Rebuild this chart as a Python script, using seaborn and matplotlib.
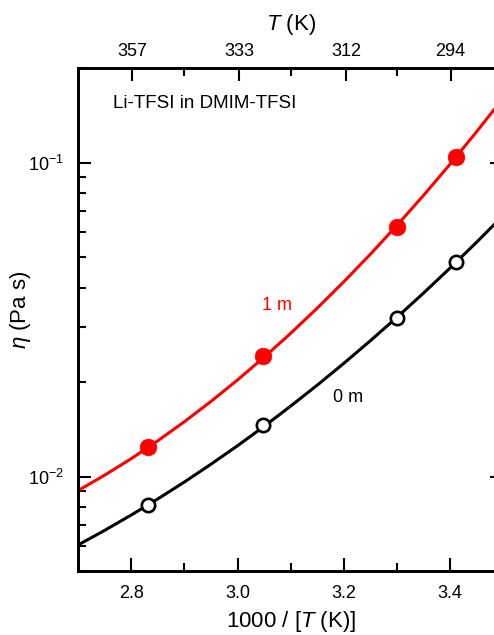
import numpy as np
import pandas as pd
import matplotlib
matplotlib.use("Agg")
import matplotlib.pyplot as plt
import matplotlib.ticker as mticker
import seaborn as sns

# ---- data ----
# measured points: x = 1000/T (K^-1), y = viscosity (Pa s)
x_pts = [2.832, 3.048, 3.300, 3.412]
eta_1m = [0.0124, 0.0242, 0.0624, 0.1045]
eta_0m = [0.00813, 0.01464, 0.03212, 0.04842]

# fitted curves, every 0.05 in 1000/T
curve_x = [2.70, 2.75, 2.80, 2.85, 2.90, 2.95, 3.00, 3.05, 3.10,
           3.15, 3.20, 3.25, 3.30, 3.35, 3.40, 3.45, 3.50]
curve_1m_y = [0.00903, 0.01011, 0.01141, 0.01301, 0.01496, 0.01736, 0.02032, 0.02401, 0.02860,
              0.03440, 0.04174, 0.05107, 0.06308, 0.07861, 0.09883, 0.1254, 0.1605]
curve_0m_y = [0.006058, 0.006741, 0.007544, 0.008490, 0.009611, 0.01095, 0.01254, 0.01445, 0.01677,
              0.01955, 0.02294, 0.02708, 0.03215, 0.03839, 0.04614, 0.05576, 0.06779]

bottom_ticks = [2.8, 3.0, 3.2, 3.4]
bottom_minor = [2.9, 3.1, 3.3]
top_T = [357, 333, 312, 294]

# ---- style ----
sns.set_theme(style="ticks")
plt.rcParams["font.family"] = ["Liberation Sans", "DejaVu Sans"]
plt.rcParams["mathtext.fontset"] = "custom"
plt.rcParams["mathtext.rm"] = "Liberation Sans"
plt.rcParams["mathtext.it"] = "Liberation Sans:italic"
plt.rcParams["mathtext.bf"] = "Liberation Sans:bold"
for k in ["text.color", "axes.labelcolor", "xtick.color", "ytick.color", "axes.edgecolor"]:
    plt.rcParams[k] = "black"

W, H = 494, 635
fig = plt.figure(figsize=(W / 100, H / 100), dpi=100)
ax_l, ax_r, ax_t, ax_b = 78.3, 503.0, 68.3, 571.0
ax = fig.add_axes([ax_l / W, 1 - ax_b / H, (ax_r - ax_l) / W, (ax_b - ax_t) / H])

red = "#ff0000"
lw = 2.2

df1 = pd.DataFrame({"x": curve_x, "y": curve_1m_y})
df0 = pd.DataFrame({"x": curve_x, "y": curve_0m_y})
sns.lineplot(data=df1, x="x", y="y", color=red, lw=lw, ax=ax, sort=True, zorder=2)
sns.lineplot(data=df0, x="x", y="y", color="black", lw=lw, ax=ax, sort=True, zorder=2)

sns.scatterplot(x=x_pts, y=eta_1m, ax=ax, s=12.0 ** 2, color=red, edgecolor=red,
                linewidth=0.5, marker="o", zorder=3)
sns.scatterplot(x=x_pts, y=eta_0m, ax=ax, s=9.6 ** 2, facecolor="white", edgecolor="black",
                linewidth=1.9, marker="o", zorder=3)

ax.set_yscale("log")
ax.set_xlim(2.7, 3.5)
ax.set_ylim(0.005, 0.2)

ax.xaxis.set_major_locator(mticker.FixedLocator(bottom_ticks))
ax.xaxis.set_minor_locator(mticker.FixedLocator(bottom_minor))
ax.xaxis.set_major_formatter(mticker.FormatStrFormatter("%.1f"))
ax.yaxis.set_minor_formatter(mticker.NullFormatter())

for s in ax.spines.values():
    s.set_linewidth(2.0)
    s.set_color("black")

ax.tick_params(axis="both", which="both", direction="in", width=1.5, color="black")
ax.tick_params(axis="both", which="major", length=9.4)
ax.tick_params(axis="both", which="minor", length=5.5)
ax.tick_params(axis="y", which="both", left=True, right=True, labelsize=13, pad=10)
ax.tick_params(axis="x", which="both", bottom=True, top=False, labelsize=13, pad=10)

ax.set_xlabel(r"1000 / [$T$ (K)]", fontsize=16, labelpad=5)
ax.set_ylabel(r"$\eta$ (Pa s)", fontsize=16)
ax.yaxis.set_label_coords((33 - ax_l) / (ax_r - ax_l), (ax_b - 310) / (ax_b - ax_t))

ax2 = ax.twiny()
ax2.set_xlim(ax.get_xlim())
ax2.xaxis.set_major_locator(mticker.FixedLocator([1000.0 / t for t in top_T]))
ax2.xaxis.set_major_formatter(mticker.FixedFormatter([str(t) for t in top_T]))
ax2.xaxis.set_minor_locator(mticker.FixedLocator(bottom_minor))
ax2.tick_params(axis="x", which="both", direction="in", width=1.5, color="black",
                labelsize=13, pad=6)
ax2.tick_params(axis="x", which="major", length=9.4)
ax2.tick_params(axis="x", which="minor", length=5.5)
for s in ax2.spines.values():
    s.set_linewidth(2.0)
ax2.set_xlabel(r"$T$ (K)", fontsize=16, labelpad=9)

ax.text(0.0817, 0.929, "Li-TFSI in DMIM-TFSI", transform=ax.transAxes,
        fontsize=13.5, ha="left", va="center", color="black")
ax.text(3.0745, 0.035, "1 m", color=red, fontsize=13, ha="center", va="center")
ax.text(3.2084, 0.01784, "0 m", color="black", fontsize=13, ha="center", va="center")

fig.savefig("out.png", dpi=100)
